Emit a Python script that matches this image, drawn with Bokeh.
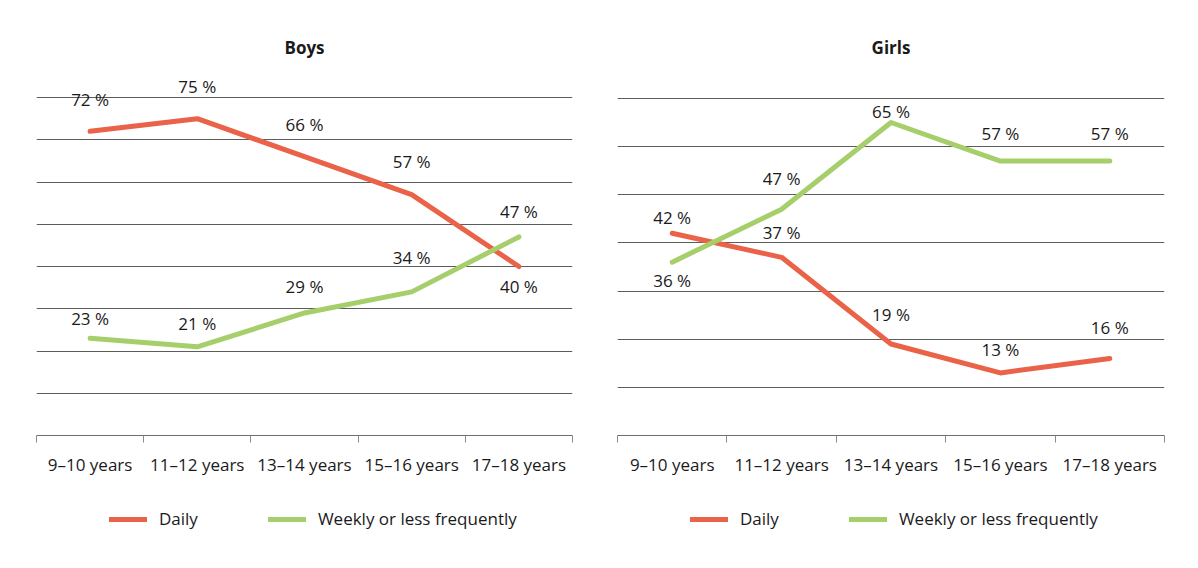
from bokeh.plotting import figure
from bokeh.layouts import row, column
from bokeh.models import (Range1d, FixedTicker, LinearAxis, Legend, LegendItem,
                          ColumnDataSource)
from bokeh.core.properties import value
from bokeh.embed import file_html
from bokeh.resources import INLINE

# Age groups and shares (%) of children by frequency
age_groups = ["9–10 years", "11–12 years", "13–14 years", "15–16 years", "17–18 years"]
boys_daily = [72, 75, 66, 57, 40]
boys_weekly = [23, 21, 29, 34, 47]
girls_daily = [42, 37, 19, 13, 16]
girls_weekly = [36, 47, 65, 57, 57]
series_names = ["Daily", "Weekly or less frequently"]

FONT = "Open Sans"
TEXT_COLOR = "#1a1a1a"
DAILY_COLOR = "#EA6248"
WEEKLY_COLOR = "#A6CF6C"
GRID_COLOR = "#5c5c5c"
LINE_STYLE = dict(line_width=5, line_join="round", line_cap="round")
CENTERS = [i + 0.5 for i in range(len(age_groups))]


def panel(title, daily, weekly, grid_max, y_end, border_left, border_right,
          daily_dy, weekly_dy):
    p = figure(width=599, height=500, output_backend="svg", toolbar_location=None,
               x_range=Range1d(0, len(age_groups)), y_range=Range1d(0, y_end),
               y_axis_location=None, x_axis_location=None,
               min_border_left=border_left, min_border_right=border_right,
               min_border_top=70, min_border_bottom=65)
    p.outline_line_color = None
    p.background_fill_color = None
    p.border_fill_color = None

    # title
    p.title.text = title
    p.title.align = "center"
    p.title.text_font = FONT
    p.title.text_font_size = "17px"
    p.title.text_font_style = "bold"
    p.title.text_color = TEXT_COLOR
    p.title.standoff = 23

    # horizontal gridlines every 10 %
    p.xgrid.visible = False
    p.ygrid.ticker = FixedTicker(ticks=list(range(10, grid_max + 1, 10)))
    p.ygrid.grid_line_color = GRID_COLOR
    p.ygrid.grid_line_width = 1

    # category axis: labels centred, tick marks between groups
    xaxis = LinearAxis(ticker=FixedTicker(ticks=CENTERS,
                                          minor_ticks=list(range(len(age_groups) + 1))))
    xaxis.major_label_overrides = {c: lab for c, lab in zip(CENTERS, age_groups)}
    xaxis.major_tick_in = 0
    xaxis.major_tick_out = 0
    xaxis.minor_tick_in = 0
    xaxis.minor_tick_out = 7
    xaxis.minor_tick_line_color = "#8a8a8a"
    xaxis.axis_line_color = "#6e6e6e"
    xaxis.major_label_text_font = FONT
    xaxis.major_label_text_font_size = "17px"
    xaxis.major_label_text_color = TEXT_COLOR
    xaxis.major_label_standoff = 10
    p.add_layout(xaxis, "below")

    src = ColumnDataSource(dict(x=CENTERS, daily=daily, weekly=weekly,
                                daily_lab=[f"{v} %" for v in daily],
                                weekly_lab=[f"{v} %" for v in weekly],
                                daily_dy=daily_dy, weekly_dy=weekly_dy))

    p.line("x", "daily", source=src, line_color=DAILY_COLOR, **LINE_STYLE)
    p.line("x", "weekly", source=src, line_color=WEEKLY_COLOR, **LINE_STYLE)

    for col, lab, dy in (("daily", "daily_lab", "daily_dy"),
                         ("weekly", "weekly_lab", "weekly_dy")):
        p.text("x", col, text=lab, source=src, y_offset=dy,
               text_align="center", text_baseline="middle",
               text_font=value(FONT), text_font_size="17px", text_color=TEXT_COLOR)
    return p


def legend_strip(daily, weekly, x0):
    """A thin strip under each chart that carries its legend.

    The series are re-plotted here only so the legend has renderers to
    sample; they fall outside this strip's 0..1 y-range and stay hidden.
    """
    q = figure(width=599, height=68, output_backend="svg", toolbar_location=None,
               x_range=Range1d(0, len(age_groups)), y_range=Range1d(0, 1),
               x_axis_location=None, y_axis_location=None,
               min_border_left=0, min_border_right=0,
               min_border_top=0, min_border_bottom=0)
    q.outline_line_color = None
    q.background_fill_color = None
    q.border_fill_color = None
    q.grid.visible = False
    r_daily = q.line(CENTERS, daily, line_color=DAILY_COLOR, **LINE_STYLE)
    r_weekly = q.line(CENTERS, weekly, line_color=WEEKLY_COLOR, **LINE_STYLE)
    legend = Legend(items=[LegendItem(label=series_names[0], renderers=[r_daily]),
                           LegendItem(label=series_names[1], renderers=[r_weekly])],
                    orientation="horizontal", location=(x0, 38),
                    padding=0, margin=0, spacing=70,
                    glyph_width=38, glyph_height=20, label_height=20,
                    label_standoff=12,
                    label_text_font=FONT, label_text_font_size="17px",
                    label_text_color=TEXT_COLOR,
                    border_line_color=None, background_fill_alpha=0)
    q.add_layout(legend, "center")
    return q


boys = panel("Boys", boys_daily, boys_weekly, 80, 86.4, 36, 27,
             daily_dy=[-32, -32, -32, -33, 20],
             weekly_dy=[-20, -23, -26, -34, -25])
girls = panel("Girls", girls_daily, girls_weekly, 70, 75.8, 18, 34,
              daily_dy=[-16, -25, -30, -23, -31],
              weekly_dy=[18, -31, -11, -28, -28])

layout = column(row(boys, girls),
                row(legend_strip(boys_daily, boys_weekly, 109),
                    legend_strip(girls_daily, girls_weekly, 91)))
open("out.html", "w").write(file_html(layout, INLINE))
